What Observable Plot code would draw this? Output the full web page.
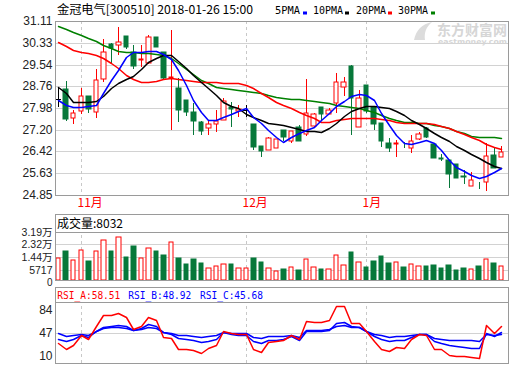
<!DOCTYPE html>
<html><head><meta charset="utf-8">
<script src="https://cdn.jsdelivr.net/npm/d3@7"></script>
<script src="https://cdn.jsdelivr.net/npm/@observablehq/plot@0.6"></script>
<style>
html,body{margin:0;padding:0;background:#fff;}
#wrap{position:relative;width:520px;height:365px;overflow:hidden;background:#fff;}
#wrap svg{position:absolute;left:0;}
</style></head><body><div id="wrap"></div>
<script>
// ---- data ----
const opens  = [28.29,28.66,27.61,27.87,28.40,27.83,29.01,30.28,30.23,30.57,30.01,29.71,29.59,30.55,29.98,29.05,28.69,28.27,27.85,27.47,27.25,27.39,27.55,28.03,27.88,27.91,27.40,26.61,26.47,26.53,27.19,26.81,27.31,27.03,27.33,28.00,27.76,28.17,28.72,29.50,27.29,28.81,28.00,27.43,26.71,26.69,26.55,26.53,26.85,27.25,26.69,26.19,26.11,25.97,25.53,25.17,25.22,25.33,26.29,26.21];
const highs  = [28.75,28.95,27.91,28.69,28.40,29.37,30.46,30.31,30.91,30.57,30.25,30.25,30.61,30.55,30.01,30.79,29.05,28.27,28.15,27.51,27.51,27.91,28.33,28.21,28.09,28.09,27.40,26.61,26.95,26.87,27.19,27.15,27.37,29.02,27.79,28.00,27.97,29.23,29.08,29.53,28.63,28.81,28.00,27.43,26.89,26.83,26.77,27.01,27.13,27.29,26.71,26.31,26.11,25.97,25.75,25.69,25.33,26.71,26.53,26.61];
const lows   = [28.03,27.53,27.42,27.75,27.81,27.62,28.93,29.55,29.88,30.12,29.37,29.47,29.55,30.19,28.99,27.19,27.49,27.69,27.01,27.01,27.01,27.13,27.55,27.31,27.67,27.67,26.47,26.21,26.47,26.53,26.81,26.73,26.81,26.98,27.31,27.55,27.76,27.79,28.41,27.01,27.29,27.79,27.19,26.59,26.41,26.21,26.53,26.35,26.83,26.89,26.17,26.07,25.11,25.45,25.25,25.17,25.06,25.01,25.81,26.21];
const closes = [28.29,27.59,27.79,28.42,27.93,28.98,29.98,30.15,30.34,30.19,29.50,29.74,30.55,30.19,29.07,29.08,27.91,27.85,27.53,27.17,27.39,27.51,28.23,27.93,27.94,27.91,26.59,26.45,26.89,26.87,26.95,27.15,26.81,27.79,27.75,27.75,27.91,28.90,28.90,28.33,28.33,27.88,27.40,26.81,26.55,26.71,26.53,26.81,27.03,26.93,26.19,26.15,25.59,25.47,25.49,25.39,25.20,26.25,25.83,26.39];
const volumes = [13520,18640,12120,19100,11660,18410,26090,18640,28180,14450,22130,13520,20500,18640,15850,24690,13750,9560,13050,10260,6540,7940,9330,9560,6540,6540,13750,11190,6540,4680,6070,7240,5380,12820,7240,6070,6070,15850,8630,17940,10960,7470,11660,15150,10260,10960,7470,9560,8170,8170,8870,6770,8870,5380,6980,6070,8380,13050,10260,8032];
const ma5  = [28.27,28.09,28.03,28.03,28.05,28.09,28.51,28.99,29.35,29.83,30.01,29.98,30.03,30.04,29.91,29.75,29.35,28.81,28.27,27.85,27.55,27.55,27.67,27.76,27.88,27.97,27.67,27.43,27.19,26.95,26.77,26.92,27.07,27.19,27.31,27.55,27.79,28.05,28.24,28.41,28.48,28.45,28.27,27.79,27.37,27.01,26.73,26.69,26.77,26.83,26.73,26.47,26.11,25.87,25.73,25.57,25.45,25.53,25.69,25.81];
const ma10 = [28.75,28.51,28.21,28.21,28.21,28.24,28.41,28.69,28.89,29.01,29.13,29.37,29.65,29.77,29.89,29.89,29.68,29.41,29.17,28.93,28.69,28.45,28.21,28.05,27.97,27.76,27.67,27.55,27.45,27.40,27.36,27.31,27.21,27.17,27.14,27.13,27.25,27.45,27.69,27.86,27.99,28.05,28.06,28.03,27.97,27.88,27.73,27.55,27.40,27.25,27.07,26.92,26.80,26.61,26.47,26.31,26.17,26.05,25.91,25.81];
const ma20 = [30.37,30.21,30.07,30.00,29.95,29.89,29.77,29.61,29.41,29.17,29.01,28.93,28.93,28.96,29.01,29.05,29.01,28.99,28.96,28.93,28.92,28.90,28.89,28.89,28.88,28.81,28.69,28.53,28.36,28.21,28.09,27.99,27.85,27.73,27.61,27.49,27.49,27.55,27.57,27.61,27.63,27.62,27.61,27.59,27.55,27.49,27.45,27.45,27.45,27.45,27.40,27.33,27.25,27.17,27.05,26.95,26.83,26.69,26.57,26.49];
const ma30 = [30.94,30.83,30.71,30.61,30.49,30.38,30.26,30.15,30.03,30.00,29.98,29.96,29.95,29.92,29.89,29.77,29.59,29.37,29.19,28.99,28.87,28.75,28.69,28.65,28.63,28.59,28.57,28.51,28.45,28.39,28.35,28.32,28.29,28.27,28.23,28.20,28.15,28.09,28.05,28.00,27.97,27.91,27.83,27.73,27.63,27.55,27.49,27.47,27.45,27.43,27.37,27.33,27.25,27.17,27.07,26.98,26.95,26.92,26.92,26.91];
const rsiA = [30.1,21.6,26.9,44.4,36.4,57.6,76.1,77.1,79.8,73.4,53.3,57.6,73.4,68.1,40.7,39.1,21.6,21.6,19.5,14.2,23.2,26.9,50.7,47.0,45.9,45.9,20.6,15.3,32.2,33.8,34.8,44.4,36.4,67.1,65.5,64.4,68.1,90.3,90.3,63.9,62.9,49.6,33.8,20.6,17.9,24.8,22.2,36.4,45.4,44.4,21.6,20.6,11.1,10.0,9.5,8.4,6.3,60.2,47.0,58.5];
const rsiB = [37.5,33.8,36.4,44.4,40.7,49.6,56.0,57.6,60.2,58.6,52.3,54.9,61.3,57.6,48.1,45.4,39.1,36.4,34.8,32.2,33.8,37.5,48.1,45.4,44.4,44.4,33.8,30.1,35.4,35.4,37.5,41.7,35.4,49.6,49.6,49.6,52.3,63.9,65.5,57.6,56.5,49.6,42.8,37.5,33.8,35.4,34.8,40.7,45.9,45.4,33.8,31.1,26.9,25.9,24.8,23.2,22.2,47.0,42.8,48.9];
const rsiC = [47.0,42.8,44.4,45.9,44.4,49.6,54.9,56.0,56.0,54.9,52.3,53.9,56.5,54.9,48.6,47.0,43.3,43.3,41.7,40.7,41.7,43.3,48.1,47.0,47.0,47.0,40.7,39.1,41.7,41.7,42.8,44.4,40.7,51.2,52.3,52.3,53.3,58.6,60.2,56.0,56.0,49.6,45.9,43.3,40.7,41.7,41.7,44.4,45.9,45.4,39.1,37.5,35.4,35.4,34.8,34.8,33.8,45.9,44.4,45.7];
const priceTicks = [31.11,30.33,29.54,28.76,27.98,27.20,26.42,25.63,24.85];
const volTicks = [31900,23200,14400,5717];
const volTickLabels = ["3.19万","2.32万","1.44万","5717"];
const rsiTicks = [84,47,10];
const monthIdx = [3,25,41];
const monthLabels = ["11月","12月","1月"];
const titleText = "金冠电气[300510] 2018-01-26 15:00";
const maNames = ["5PMA","10PMA","20PMA","30PMA"];
const volHeader = "成交量:8032";
const rsiHeaders = ["RSI_A:58.51","RSI_B:48.92","RSI_C:45.68"];

// ---- styling ----
const RED = "#ff0000", GREEN = "#07783a", GRID = "#d2d2d2", FRAME = "#9a9a9a", DASH = "#c8c8c8";
const N = closes.length;
const idx = d3.range(N);
const dir = d => closes[d] > opens[d] ? 1 : closes[d] < opens[d] ? -1 : 0;
const xOpt = {domain: [-0.43, 59.9], round: true, axis: null};
const font = {background: "none", fontFamily: "'Liberation Sans', Arial, sans-serif", fontSize: "12px", color: "#222", overflow: "visible"};
const wrap = document.getElementById("wrap");
function place(svg, top) { svg.style.position = "absolute"; svg.style.top = top + "px"; svg.style.left = "0px"; wrap.appendChild(svg); }

// ---- price panel ----
const price = Plot.plot({
  width: 520, height: 215, marginLeft: 55, marginRight: 12, marginTop: 21, marginBottom: 20,
  x: xOpt,
  y: {domain: [24.85, 31.11], round: true, ticks: priceTicks, tickFormat: d => d.toFixed(2), tickSize: 0, tickPadding: 3, label: null},
  color: {type: "identity"},
  style: font,
  marks: [
    Plot.ruleY(priceTicks, {stroke: GRID}),
    Plot.ruleX(monthIdx, {stroke: DASH, strokeDasharray: "3,3"}),
    Plot.ruleX(idx, {x: d => d, y1: d => lows[d], y2: d => highs[d], stroke: d => dir(d) > 0 ? RED : dir(d) < 0 ? GREEN : "#000"}),
    Plot.rect(idx.filter(d => dir(d) !== 0), {x1: d => d - 0.3, x2: d => d + 0.3, y1: d => opens[d], y2: d => closes[d],
      fill: d => dir(d) > 0 ? "#fff" : GREEN, stroke: d => dir(d) > 0 ? RED : GREEN}),
    Plot.ruleY(idx.filter(d => dir(d) === 0), {y: d => closes[d], x1: d => d - 0.33, x2: d => d + 0.33, stroke: "#000"}),
    Plot.line(idx, {x: d => d, y: d => ma30[d], stroke: "#008000"}),
    Plot.line(idx, {x: d => d, y: d => ma20[d], stroke: RED}),
    Plot.line(idx, {x: d => d, y: d => ma10[d], stroke: "#000"}),
    Plot.line(idx, {x: d => d, y: d => ma5[d], stroke: "#0000ff"}),
    Plot.text(monthIdx, {x: d => d, frameAnchor: "bottom", text: d => monthLabels[monthIdx.indexOf(d)], dy: 11, dx: -4, textAnchor: "start", fill: RED, fontFamily: "'Noto Sans CJK SC', sans-serif"}),
    Plot.frame({stroke: FRAME})
  ]
});
place(price, 0);

// ---- volume panel ----
const volLo = -1605, volHi = 44460;
const vol = Plot.plot({
  width: 520, height: 80, marginLeft: 55, marginRight: 12, marginTop: 9, marginBottom: 5,
  x: xOpt,
  y: {domain: [volLo, volHi], round: true, ticks: volTicks, tickFormat: d => volTickLabels[volTicks.indexOf(d)], tickSize: 0, tickPadding: 3, label: null},
  color: {type: "identity"},
  style: {...font, fontSize: "10.5px", fontFamily: "'Liberation Sans', 'Noto Sans CJK SC', sans-serif"},
  marks: [
    Plot.ruleY(volTicks.slice(1), {stroke: GRID}),
    Plot.ruleX(monthIdx, {y1: volLo, y2: volTicks[0], stroke: DASH, strokeDasharray: "3,3"}),
    Plot.rect(idx, {x1: d => d - 0.3, x2: d => d + 0.3, y1: volLo, y2: d => volumes[d],
      fill: d => dir(d) >= 0 ? "#fff" : GREEN, stroke: d => dir(d) >= 0 ? RED : GREEN}),
    Plot.ruleY([volTicks[0]], {stroke: FRAME}),
    Plot.text(["0"], {frameAnchor: "bottom-left", text: d => d, textAnchor: "end", dx: -3, dy: 5, fontSize: 10, fill: "#222"}),
    Plot.frame({stroke: FRAME})
  ]
});
place(vol, 205);

// ---- RSI panel ----
const rLo = -1.94, rHi = 122.0, rSep = 97.6;
const rsi = Plot.plot({
  width: 520, height: 82, marginLeft: 55, marginRight: 12, marginTop: 4, marginBottom: 2,
  x: xOpt,
  y: {domain: [rLo, rHi], round: true, ticks: rsiTicks, tickFormat: d => String(d), tickSize: 0, tickPadding: 3, label: null},
  style: font,
  marks: [
    Plot.ruleY([47], {stroke: GRID}),
    Plot.ruleX(monthIdx, {y1: rLo, y2: rSep, stroke: DASH, strokeDasharray: "3,3"}),
    Plot.line(idx, {x: d => d, y: d => rsiC[d], stroke: "#0000ff"}),
    Plot.line(idx, {x: d => d, y: d => rsiB[d], stroke: "#0000ff"}),
    Plot.line(idx, {x: d => d, y: d => rsiA[d], stroke: RED}),
    Plot.ruleY([rSep], {stroke: FRAME}),
    Plot.frame({stroke: FRAME})
  ]
});
place(rsi, 283);

// ---- texts (title, legend, headers, watermark) ----
const ov = d3.select(wrap).append("svg").attr("width", 520).attr("height", 365)
  .style("position", "absolute").style("top", "0px").style("left", "0px").style("pointer-events", "none");
const cjk = "'Noto Sans CJK SC', sans-serif", mono = "'DejaVu Sans Mono', 'Liberation Mono', monospace";
function txt(x, y, s, len, fam, size, fill, weight) {
  ov.append("text").attr("x", x).attr("y", y).attr("textLength", len).attr("lengthAdjust", "spacingAndGlyphs")
    .style("font-family", fam).style("font-size", size + "px").style("font-weight", weight || "normal").attr("fill", fill).text(s);
}
// watermark
ov.append("path").attr("d", "M414,40 C416,30 422,24 432,22 C426,27 424,33 425,40 Z").attr("fill", "#dcdcdc");
txt(437, 34.5, "东方财富网", 70, cjk, 14, "#d6d6d6", "bold");
txt(438, 44, "eastmoney.com", 69, "'DejaVu Sans', sans-serif", 7, "#d6d6d6", "bold");
// title & legend
txt(57, 14, titleText, 196, cjk, 12, "#000");
const legX = [275, 313, 356, 398], legW = [25, 30, 30, 30], legSq = [303, 345, 388, 431];
const legC = ["#0000ff", "#000000", RED, "#008000"];
maNames.forEach((n, k) => {
  txt(legX[k], 14, n, legW[k], mono, 11, "#000");
  ov.append("rect").attr("x", legSq[k]).attr("y", 11.5).attr("width", 4).attr("height", 3).attr("fill", legC[k]);
});
// panel headers
txt(57, 228, volHeader, 66, cjk, 12, "#000");
const rsiHX = [57.3, 128.3, 200], rsiHC = [RED, "#0000ff", "#0000ff"];
rsiHeaders.forEach((h, k) => txt(rsiHX[k], 298.5, h, 63, mono, 11, rsiHC[k]));
</script></body></html>
